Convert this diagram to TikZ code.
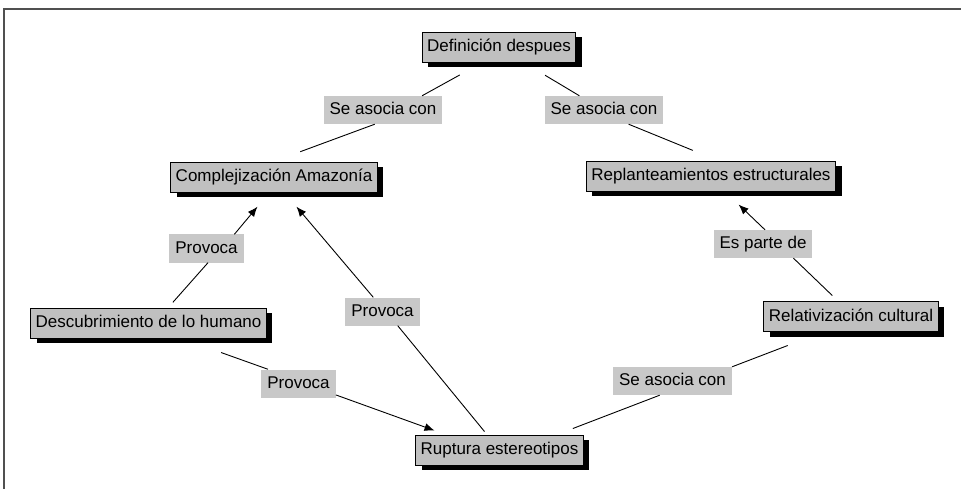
\documentclass[tikz,border=0pt]{standalone}
\usepackage{fontspec}
\setmainfont{Liberation Sans}
\usepackage{tikz}
\usetikzlibrary{arrows.meta}
\usetikzlibrary{shadows}

\definecolor{ConceptGray}{RGB}{192,192,192}
\definecolor{LinkGray}{RGB}{200,200,200}
\definecolor{FrameGray}{RGB}{80,80,80}

\begin{document}
\begin{tikzpicture}[x = 1pt, y = -1pt,
    concept/.style = {fill = ConceptGray, draw = black, line width = 0.8pt,
        font = \fontsize{17}{20}\selectfont, text height = 12.5pt, text depth = 3.5pt,
        inner xsep = 5pt, inner ysep = 7pt,
        drop shadow = {shadow xshift = 6pt, shadow yshift = -5pt, fill = black, opacity = 1}},
    linkword/.style = {fill = LinkGray, font = \fontsize{17}{20}\selectfont,
        text height = 12.5pt, text depth = 3.5pt, inner xsep = 6pt, inner ysep = 6pt},
    link/.style = {line width = 0.9pt},
    linkto/.style = {link, -{Latex[length = 10pt, width = 8pt]}}]
    \useasboundingbox (0, 0) rectangle (961, 489);
    \draw [FrameGray, line width = 1.5pt] (4, 489) -- (4, 9) -- (961, 9);
    \node [concept] (def) at (499, 47) {Definición despues};
    \node [concept] (compl) at (274, 177.5) {Complejización Amazonía};
    \node [concept] (repl) at (711, 176) {Replanteamientos estructurales};
    \node [concept] (desc) at (148.5, 323) {Descubrimiento de lo humano};
    \node [concept] (relat) at (851, 316.5) {Relativización cultural};
    \node [concept] (rupt) at (499.5, 450) {Ruptura estereotipos};
    \node [linkword] (asocL) at (383, 110) {Se asocia con};
    \node [linkword] (asocR) at (604, 110) {Se asocia con};
    \node [linkword] (provA) at (206.5, 248.5) {Provoca};
    \node [linkword] (provB) at (382.5, 311.5) {Provoca};
    \node [linkword] (provC) at (298.5, 383.5) {Provoca};
    \node [linkword] (parte) at (763, 244) {Es parte de};
    \node [linkword] (asocB) at (672.5, 381) {Se asocia con};
    \draw [link, shorten <= 26pt] (def.223) -- (asocL.20);
    \draw [link, shorten >= 30pt] (asocL.240) -- (compl.97);
    \draw [link, shorten <= 25pt] (def.328) -- (asocR.150);
    \draw [link, shorten >= 27pt] (asocR.330) -- (repl.66);
    \draw [link, shorten <= 7pt] (desc.38) -- (provA.276);
    \draw [linkto, shorten >= 18pt] (provA.27) -- (compl.252);
    \draw [link, shorten <= 4pt] (rupt.129) -- (provB.317);
    \draw [linkto, shorten >= 18pt] (provB.123) -- (compl.305);
    \draw [link, shorten <= 42pt] (desc.335) -- (provC.155);
    \draw [linkto, shorten >= 12pt] (provC.343) -- (rupt.164);
    \draw [link, shorten <= 38pt] (relat.209) -- (asocB.north east);
    \draw [link, shorten >= 17pt] (asocB.228) -- (rupt.15);
    \draw [link, shorten <= 8pt] (relat.130) -- (parte.335);
    \draw [linkto, shorten >= 19pt] (parte.82) -- (repl.312);
\end{tikzpicture}
\end{document}
